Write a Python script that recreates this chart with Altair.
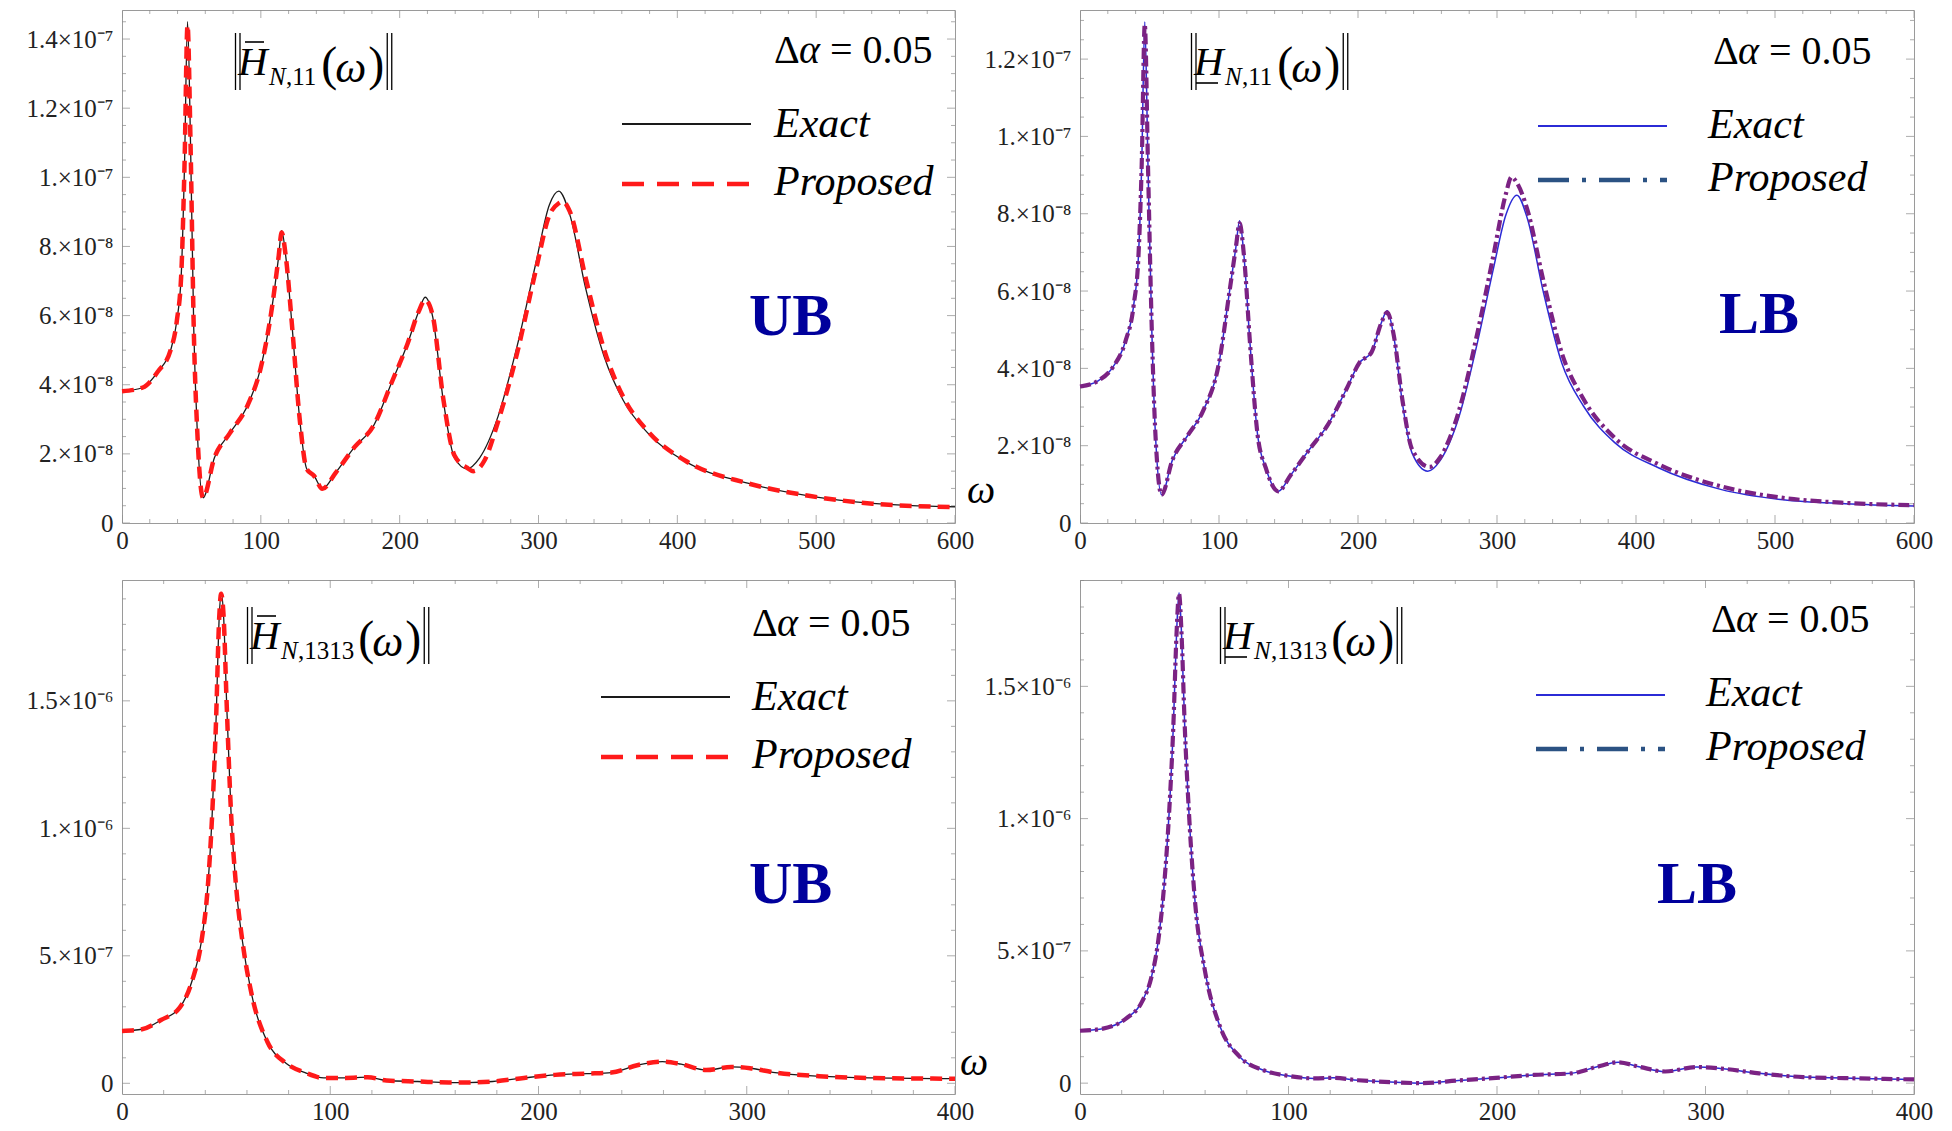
import altair as alt
import pandas as pd

# ---------------- data ----------------
# Top-left: upper bound, H_N,11
tl_x_exact = [0, 15, 26, 35, 39.5, 42.7, 45, 47.2, 49.4, 51.7, 54.4, 58.4, 66.5, 77.7, 91, 100, 107.9,
              112.8, 115, 118, 122.7, 128, 133, 138.4, 144.3, 154, 167.6, 181, 194.6, 205.8, 213.5, 218.4,
              223.8, 231.4, 239.5, 248.5, 257.5, 271, 284.5, 298, 307.8, 314.6, 322.7, 333.9, 347.4, 361,
              378.8, 405.8, 450.7, 495.7, 540.6, 600]
tl_y_exact = [3.81e-8, 3.92e-8, 4.39e-8, 5.0e-8, 5.85e-8, 7.2e-8, 1.03e-7, 1.45e-7, 1.09e-7, 5.6e-8, 2.5e-8,
              7.3e-9, 1.88e-8, 2.6e-8, 3.45e-8, 4.5e-8, 6.2e-8, 7.7e-8, 8.46e-8, 7.7e-8, 5.6e-8, 3.0e-8,
              1.57e-8, 1.36e-8, 9.9e-9, 1.46e-8, 2.2e-8, 2.8e-8, 4.1e-8, 5.2e-8, 6.1e-8, 6.53e-8, 5.96e-8,
              3.55e-8, 1.88e-8, 1.57e-8, 1.88e-8, 3.1e-8, 5.1e-8, 7.5e-8, 9.2e-8, 9.6e-8, 8.9e-8, 6.8e-8,
              4.8e-8, 3.55e-8, 2.6e-8, 1.78e-8, 1.15e-8, 7.8e-9, 5.7e-9, 4.7e-9]
tl_x_prop = [0, 15, 26, 35, 39.5, 42.7, 45, 47.2, 49.4, 51.7, 54.4, 58.4, 66.5, 77.7, 91, 100, 107.9,
             112.8, 115, 118, 122.7, 128, 133, 138.4, 144.3, 154, 167.6, 181, 194.6, 205.8, 213.5, 218.4,
             223.8, 231.4, 239.5, 248.5, 253, 261, 271, 284.5, 298, 307.8, 314.6, 317.5, 322.7, 333.9,
             347.4, 361, 378.8, 405.8, 450.7, 495.7, 540.6, 600]
tl_y_prop = [3.81e-8, 3.92e-8, 4.39e-8, 5.0e-8, 5.85e-8, 7.2e-8, 1.03e-7, 1.44e-7, 1.09e-7, 5.6e-8, 2.5e-8,
             7.3e-9, 1.88e-8, 2.6e-8, 3.45e-8, 4.5e-8, 6.2e-8, 7.7e-8, 8.4e-8, 7.7e-8, 5.6e-8, 3.0e-8,
             1.57e-8, 1.36e-8, 9.9e-9, 1.46e-8, 2.2e-8, 2.8e-8, 4.1e-8, 5.2e-8, 6.1e-8, 6.45e-8, 6.0e-8,
             3.6e-8, 1.95e-8, 1.6e-8, 1.5e-8, 1.8e-8, 2.95e-8, 4.9e-8, 7.3e-8, 8.9e-8, 9.25e-8, 9.3e-8,
             9.0e-8, 7.1e-8, 5.0e-8, 3.65e-8, 2.65e-8, 1.8e-8, 1.15e-8, 7.8e-9, 5.6e-9, 4.6e-9]

# Top-right: lower bound, H_N,11
tr_x_exact = [0, 12.6, 23.8, 32.7, 38.6, 42.1, 44.4, 46.6, 48.9, 51.6, 54.3, 58.7, 66.4, 77.6, 88.8, 100,
              107.6, 112.1, 114.8, 117.9, 122.4, 127.8, 133.6, 142.6, 151.6, 165, 178.5, 191.9, 200.9,
              209.8, 216.6, 221, 225.5, 232.3, 239, 250.2, 259.2, 272.6, 286.1, 297.3, 306.3, 314.3,
              321.9, 333.2, 346.6, 362.3, 384.7, 416.1, 460.9, 505.8, 550.6, 600]
tr_y_exact = [3.53e-8, 3.67e-8, 4.04e-8, 4.7e-8, 5.63e-8, 6.94e-8, 9.27e-8, 1.296e-7, 9.27e-8, 5.07e-8,
              2.27e-8, 7.3e-9, 1.62e-8, 2.27e-8, 2.92e-8, 4.14e-8, 6.0e-8, 7.12e-8, 7.82e-8, 6.94e-8,
              4.6e-8, 2.27e-8, 1.43e-8, 8.2e-9, 1.24e-8, 1.9e-8, 2.55e-8, 3.48e-8, 4.14e-8, 4.42e-8,
              5.16e-8, 5.49e-8, 4.88e-8, 3.02e-8, 1.8e-8, 1.34e-8, 1.62e-8, 2.74e-8, 4.7e-8, 6.56e-8,
              7.96e-8, 8.48e-8, 7.87e-8, 6.0e-8, 4.14e-8, 3.02e-8, 2.08e-8, 1.43e-8, 8.7e-9, 6.0e-9,
              5.0e-9, 4.4e-9]
tr_x_prop = [0, 12.6, 23.8, 32.7, 38.6, 42.1, 44.4, 46.6, 48.9, 51.6, 54.3, 58.7, 66.4, 77.6, 88.8, 100,
             107.6, 112.1, 114.8, 117.9, 122.4, 127.8, 133.6, 142.6, 151.6, 165, 178.5, 191.9, 200.9,
             209.8, 216.6, 221, 225.5, 232.3, 239, 251.5, 259.2, 272.6, 286.1, 297.3, 306.3, 310.5,
             314.3, 321.9, 333.2, 346.6, 362.3, 384.7, 416.1, 460.9, 505.8, 550.6, 600]
tr_y_prop = [3.53e-8, 3.67e-8, 4.04e-8, 4.7e-8, 5.63e-8, 6.94e-8, 9.27e-8, 1.29e-7, 9.27e-8, 5.07e-8,
             2.27e-8, 7.3e-9, 1.62e-8, 2.27e-8, 2.92e-8, 4.14e-8, 6.0e-8, 7.12e-8, 7.75e-8, 6.94e-8,
             4.6e-8, 2.27e-8, 1.43e-8, 8.2e-9, 1.24e-8, 1.9e-8, 2.55e-8, 3.48e-8, 4.14e-8, 4.42e-8,
             5.16e-8, 5.45e-8, 4.9e-8, 3.1e-8, 1.9e-8, 1.45e-8, 1.7e-8, 2.9e-8, 4.95e-8, 6.9e-8,
             8.5e-8, 8.95e-8, 8.8e-8, 8.1e-8, 6.3e-8, 4.4e-8, 3.2e-8, 2.2e-8, 1.52e-8, 9.5e-9, 6.5e-9,
             5.2e-9, 4.6e-9]

# Bottom-left: upper bound, H_N,1313 (exact and proposed coincide)
bl_x = [0, 9.6, 18.7, 27.7, 33.7, 38.2, 41.2, 43.3, 45.1, 46.7, 47.6, 48.8, 50.3, 52.4, 54.8, 57.8,
        62.3, 69.8, 78.9, 87.9, 96.9, 107.5, 118, 127, 142, 157, 166, 178, 193, 208, 223, 235, 247.4,
        259.5, 268.5, 280.5, 292.6, 301.6, 313.6, 334.7, 358.8, 400]
bl_y_exact = [2.05e-7, 2.12e-7, 2.48e-7, 2.97e-7, 4.03e-7, 5.59e-7, 7.71e-7, 1.054e-6, 1.408e-6, 1.83e-6,
              1.925e-6, 1.83e-6, 1.479e-6, 1.054e-6, 7.71e-7, 5.59e-7, 3.47e-7, 1.63e-7, 7.8e-8, 4.2e-8,
              2.1e-8, 2.1e-8, 2.4e-8, 1.1e-8, 7e-9, 3e-9, 3e-9, 7e-9, 2.1e-8, 3.3e-8, 3.8e-8, 4.2e-8,
              7.1e-8, 8.5e-8, 7.5e-8, 5.2e-8, 6.4e-8, 5.9e-8, 4.2e-8, 2.8e-8, 2.1e-8, 1.8e-8]
bl_y_prop = [2.05e-7, 2.12e-7, 2.48e-7, 2.97e-7, 4.03e-7, 5.59e-7, 7.71e-7, 1.054e-6, 1.408e-6, 1.83e-6,
             1.92e-6, 1.83e-6, 1.479e-6, 1.054e-6, 7.71e-7, 5.59e-7, 3.47e-7, 1.63e-7, 7.8e-8, 4.2e-8,
             2.1e-8, 2.1e-8, 2.4e-8, 1.1e-8, 7e-9, 3e-9, 3e-9, 7e-9, 2.1e-8, 3.3e-8, 3.8e-8, 4.2e-8,
             7.1e-8, 8.5e-8, 7.5e-8, 5.2e-8, 6.4e-8, 5.9e-8, 4.2e-8, 2.8e-8, 2.1e-8, 1.8e-8]

# Bottom-right: lower bound, H_N,1313
br_x = [0, 10.2, 22.2, 29.7, 34.3, 37.3, 40.3, 42.7, 44.8, 46.3, 47.5, 48.7, 50.2, 52.3, 55.3, 59.8,
        67.3, 76.3, 88.3, 100.4, 112.4, 121.4, 133.4, 151.5, 163.5, 181.5, 199.5, 217.6, 235.6, 247.6,
        258.1, 268.6, 280.7, 295.7, 307.7, 325.7, 346.8, 373.8, 400]
br_y_exact = [1.98e-7, 2.05e-7, 2.45e-7, 3.07e-7, 4.02e-7, 5.25e-7, 7.43e-7, 1.016e-6, 1.357e-6, 1.698e-6,
              1.854e-6, 1.698e-6, 1.357e-6, 1.016e-6, 6.75e-7, 4.3e-7, 2.11e-7, 1.02e-7, 4.8e-8, 2.7e-8,
              1.8e-8, 2.0e-8, 1.1e-8, 3e-9, 0.0, 1.0e-8, 2.0e-8, 3.1e-8, 3.7e-8, 6.1e-8, 7.9e-8, 6.1e-8,
              4.4e-8, 6.1e-8, 5.5e-8, 3.7e-8, 2.3e-8, 1.8e-8, 1.4e-8]
br_y_prop = [1.98e-7, 2.05e-7, 2.45e-7, 3.07e-7, 4.02e-7, 5.25e-7, 7.43e-7, 1.016e-6, 1.357e-6, 1.698e-6,
             1.85e-6, 1.698e-6, 1.357e-6, 1.016e-6, 6.75e-7, 4.3e-7, 2.11e-7, 1.02e-7, 4.8e-8, 2.7e-8,
             1.8e-8, 2.0e-8, 1.1e-8, 3e-9, 0.0, 1.0e-8, 2.0e-8, 3.1e-8, 3.7e-8, 6.1e-8, 7.9e-8, 6.1e-8,
             4.4e-8, 6.1e-8, 5.5e-8, 3.7e-8, 2.3e-8, 1.8e-8, 1.4e-8]

# axis ticks and labels
x_ticks_600 = [0, 100, 200, 300, 400, 500, 600]
x_ticks_400 = [0, 100, 200, 300, 400]
tl_y_ticks = [0, 2e-8, 4e-8, 6e-8, 8e-8, 1e-7, 1.2e-7, 1.4e-7]
tl_y_labels = ["0", "2.×10⁻⁸", "4.×10⁻⁸", "6.×10⁻⁸", "8.×10⁻⁸", "1.×10⁻⁷", "1.2×10⁻⁷", "1.4×10⁻⁷"]
tr_y_ticks = [0, 2e-8, 4e-8, 6e-8, 8e-8, 1e-7, 1.2e-7]
tr_y_labels = ["0", "2.×10⁻⁸", "4.×10⁻⁸", "6.×10⁻⁸", "8.×10⁻⁸", "1.×10⁻⁷", "1.2×10⁻⁷"]
b_y_ticks = [0, 5e-7, 1e-6, 1.5e-6]
b_y_labels = ["0", "5.×10⁻⁷", "1.×10⁻⁶", "1.5×10⁻⁶"]

SERIF = "Liberation Serif"
DUMMY = pd.DataFrame({"d": [0]})


def txt(s, x, y, size, style="normal", weight="normal", color="#000"):
    return alt.Chart(DUMMY).mark_text(
        text=s, align="left", baseline="alphabetic", font=SERIF, fontSize=size,
        fontStyle=style, fontWeight=weight, color=color,
    ).encode(x=alt.value(x), y=alt.value(y))


def hrule(x1, x2, y, color="#000", width=1.5, dash=None):
    kw = dict(color=color, strokeWidth=width, strokeCap="butt")
    if dash:
        kw["strokeDash"] = dash
    return alt.Chart(DUMMY).mark_rule(**kw).encode(
        x=alt.value(x1), x2=alt.value(x2), y=alt.value(y))


def vrule(x, y1, y2, width=1.3):
    return alt.Chart(DUMMY).mark_rule(color="#000", strokeWidth=width).encode(
        x=alt.value(x), y=alt.value(y1), y2=alt.value(y2))


def formula(x0, y0, sub, bar):
    L = [vrule(x0 + 1.5, y0, y0 + 57), vrule(x0 + 6, y0, y0 + 57)]
    L.append(txt("H", x0 + 4, y0 + 42, 41, style="italic"))
    if bar:
        L.append(hrule(x0 + 11, x0 + 30, y0 + 9, width=1.6))
    else:
        L.append(hrule(x0 + 6, x0 + 28, y0 + 50, width=1.6))
    # subscript: italic N, upright digits
    L.append(txt(sub[0], x0 + 35, y0 + 52, 25, style="italic"))
    L.append(txt(sub[1:], x0 + 52, y0 + 52, 25))
    sw = 17 + 25 * (0.25 + 0.5 * (len(sub) - 2))
    p = x0 + 35 + sw + 4
    L.append(txt("(", p, y0 + 47, 48))
    L.append(txt("ω", p + 14, y0 + 49, 44, style="italic"))
    L.append(txt(")", p + 47, y0 + 47, 48))
    L.append(vrule(p + 66, y0, y0 + 57))
    L.append(vrule(p + 70.5, y0, y0 + 57))
    return L


def panel(xe, ye, xp, yp, w, h, xdom, xticks, xminor, ydom, yticks, ylabels, yminor,
          exact_style, prop_style, legend_prop_style, ann):
    xs = alt.Scale(domain=xdom, nice=False, zero=False)
    ys = alt.Scale(domain=ydom, nice=False, zero=False)
    label_expr = "[" + ",".join("'%s'" % s for s in ylabels) + "][indexof([" + \
        ",".join(repr(v) for v in yticks) + "], datum.value)]"
    xaxis = alt.Axis(values=xticks, title=None, grid=False, ticks=False, domain=False,
                     labelFont=SERIF, labelFontSize=25, labelPadding=5, labelColor="#222",
                     labelFlush=False)
    yaxis = alt.Axis(values=yticks, title=None, grid=False, ticks=False, domain=False,
                     labelFont=SERIF, labelFontSize=25, labelPadding=9, labelColor="#222",
                     labelExpr=label_expr)
    X = lambda f: alt.X(f, scale=xs, axis=xaxis, title=None)
    Y = lambda f: alt.Y(f, scale=ys, axis=yaxis, title=None)

    de = pd.DataFrame({"x": xe, "y": ye})
    dp = pd.DataFrame({"x": xp, "y": yp})
    exact = alt.Chart(de).mark_line(interpolate="monotone", strokeCap="butt", **exact_style).encode(
        x=X("x:Q"), y=Y("y:Q"))
    prop = alt.Chart(dp).mark_line(interpolate="monotone", strokeCap="butt", **prop_style).encode(
        x=X("x:Q"), y=Y("y:Q"))

    # frame ticks (inward, Mathematica style)
    xt = pd.DataFrame({"x": xminor, "s": [16 if v in xticks else 8 for v in xminor]})
    yt = pd.DataFrame({"y": yminor, "s": [16 if any(abs(v - t) < 1e-12 for t in yticks) else 8 for v in yminor]})
    tick_kw = dict(color="#8a8a8a", thickness=1, clip=True)
    layers = [exact]
    for yy in (0, h):
        layers.append(alt.Chart(xt).mark_tick(orient="vertical", **tick_kw).encode(
            x=X("x:Q"), y=alt.value(yy),
            size=alt.Size("s:Q", scale=None, legend=None)))
    for xx in (0, w):
        layers.append(alt.Chart(yt).mark_tick(orient="horizontal", **tick_kw).encode(
            y=Y("y:Q"), x=alt.value(xx),
            size=alt.Size("s:Q", scale=None, legend=None)))
    layers += [prop]

    a = ann
    layers += formula(a["fx"], a["fy"], a["sub"], a["bar"])
    # delta alpha
    layers.append(txt("Δ", a["dx"], a["dy"], 40))
    layers.append(txt("α", a["dx"] + 25, a["dy"], 40, style="italic"))
    layers.append(txt("= 0.05", a["dx"] + 56, a["dy"], 40))
    # legend
    layers.append(hrule(a["lx"], a["lx"] + 129, a["ly1"], color=exact_style["color"],
                        width=exact_style["strokeWidth"] + 0.6))
    layers.append(hrule(a["lx"], a["lx"] + 129, a["ly2"], **legend_prop_style))
    layers.append(txt("Exact", a["tx"], a["ty1"], 42, style="italic"))
    layers.append(txt("Proposed", a["tx"], a["ty2"], 42, style="italic"))
    # UB / LB
    layers.append(txt(a["tag"], a["bx"], a["by"], 60, weight="bold", color="#00009C"))
    if a.get("omega"):
        layers.append(txt("ω", a["omega"][0], a["omega"][1], 40, style="italic"))
    return alt.layer(*layers).properties(width=w, height=h)


def frange(a, b, step):
    out, v = [], a
    while v <= b + step * 1e-6:
        out.append(round(v, 15))
        v += step
    return out


black = dict(color="#1a1a1a", strokeWidth=1.3)
red = dict(color="#ff1a1a", strokeWidth=4.5, strokeDash=[12, 7])
blue = dict(color="#2b2bd6", strokeWidth=1.5)
purple = dict(color="#7b2283", strokeWidth=4.2, strokeDash=[11, 4, 3, 4])
leg_red = dict(color="#ff1a1a", width=4.5, dash=[22, 13])
leg_purple = dict(color="#2b5283", width=4.5, dash=[31, 13, 4, 13])

W1, W2, H1, H2 = 833, 834, 513, 514

tl = panel(tl_x_exact, tl_y_exact, tl_x_prop, tl_y_prop, W1, H1, [0, 600], x_ticks_600,
           list(range(0, 601, 20)), [0, 1.484e-7], tl_y_ticks, tl_y_labels, frange(0, 1.45e-7, 5e-9),
           black, red, leg_red,
           dict(fx=112, fy=23, sub="N,11", bar=True, dx=652, dy=53, lx=500, ly1=114, ly2=174,
                tx=652, ty1=127, ty2=185, tag="UB", bx=627, by=325, omega=(845, 493)))
tr = panel(tr_x_exact, tr_y_exact, tr_x_prop, tr_y_prop, W2, H1, [0, 600], x_ticks_600,
           list(range(0, 601, 20)), [0, 1.327e-7], tr_y_ticks, tr_y_labels, frange(0, 1.3e-7, 5e-9),
           blue, purple, leg_purple,
           dict(fx=110, fy=23, sub="N,11", bar=False, dx=633, dy=54, lx=458, ly1=116, ly2=170,
                tx=628, ty1=128, ty2=181, tag="LB", bx=639, by=323))
bl = panel(bl_x, bl_y_exact, bl_x, bl_y_prop, W1, H2, [0, 400], x_ticks_400,
           list(range(0, 401, 20)), [-4.2e-8, 1.974e-6], b_y_ticks, b_y_labels, frange(0, 1.9e-6, 1e-7),
           black, red, leg_red,
           dict(fx=124, fy=27, sub="N,1313", bar=True, dx=630, dy=56, lx=479, ly1=117, ly2=177,
                tx=630, ty1=130, ty2=188, tag="UB", bx=627, by=323, omega=(838, 495)))
br = panel(br_x, br_y_exact, br_x, br_y_prop, W2, H2, [0, 400], x_ticks_400,
           list(range(0, 401, 20)), [-4.1e-8, 1.902e-6], b_y_ticks, b_y_labels, frange(0, 1.9e-6, 1e-7),
           blue, purple, leg_purple,
           dict(fx=139, fy=27, sub="N,1313", bar=False, dx=631, dy=52, lx=456, ly1=115, ly2=169,
                tx=626, ty1=126, ty2=180, tag="LB", bx=577, by=323))

chart = alt.concat(tl, tr, bl, br, columns=2, spacing={"row": 57, "column": 125}, bounds="flush").properties(
    padding={"left": 17, "top": 1, "right": 5, "bottom": 2}
).configure_view(stroke="#9a9a9a", strokeWidth=1)

chart.save("out.html", embed_options={"renderer": "svg", "actions": False})
